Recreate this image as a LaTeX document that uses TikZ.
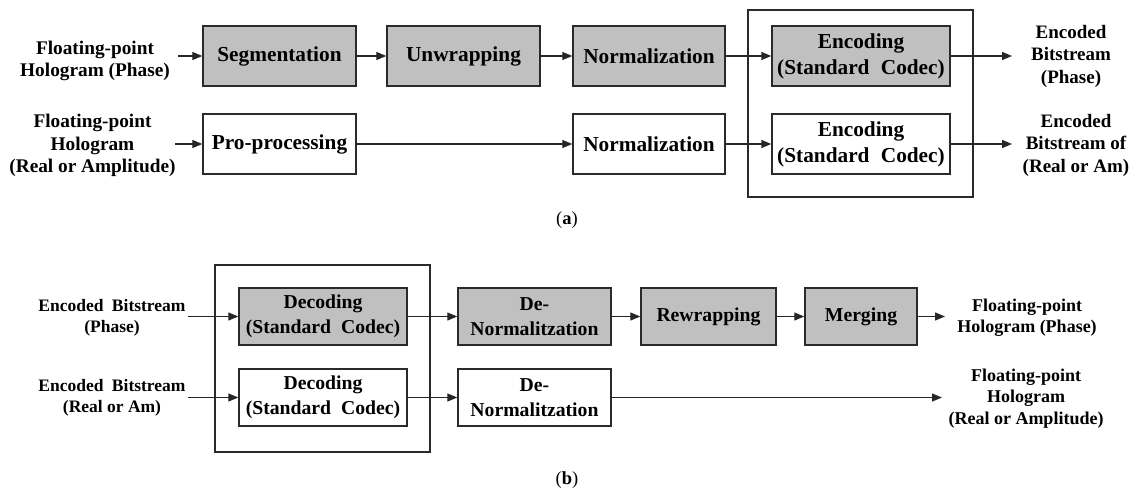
\documentclass[tikz,border=0pt]{standalone}
\usepackage{fontspec}
\setmainfont{Liberation Serif}
\usetikzlibrary{arrows.meta}
\definecolor{boxgray}{HTML}{C0C0C0}
\definecolor{edgecol}{HTML}{2A2A2A}
\tikzset{
  box/.style={draw=edgecol, line width=1.4pt, inner sep=0pt, align=center, fill=white},
  gbox/.style={box, fill=boxgray},
  fa/.style={font=\bfseries\fontsize{21.3}{26}\selectfont},
  fb/.style={font=\bfseries\fontsize{19.7}{25}\selectfont},
  lbl/.style={inner sep=0pt, align=center, font=\bfseries\fontsize{19.3}{22.3}\selectfont},
  frame/.style={draw=edgecol, line width=1.4pt, inner sep=0pt},
  arr/.style={draw=black!85, line width=1.2pt, -{Triangle[length=10pt,width=8pt]}},
}
\begin{document}
\begin{tikzpicture}[x=1pt,y=-1pt]
\useasboundingbox (0,0) rectangle (1134,492);

% ---------- (a) ----------
\node[frame, minimum width=225, minimum height=187] (outa) at (860.5,103.5) {};

\node[gbox, fa, minimum width=153, minimum height=60] (seg) at (279.5,56) {Segmentation};
\node[gbox, fa, minimum width=153, minimum height=60] (unw) at (463.5,56) {Unwrapping};
\node[gbox, fa, minimum width=152, minimum height=60] (nrm1) at (649,56) {Normalization};
\node[gbox, fa, minimum width=178, minimum height=60] (enc1) at (861,56) {Encoding\\(Standard\hspace{6pt} Codec)};

\node[box, fa, minimum width=153, minimum height=60] (pro) at (279.5,144) {Pro-processing};
\node[box, fa, minimum width=152, minimum height=60] (nrm2) at (649,144) {Normalization};
\node[box, fa, minimum width=178, minimum height=60] (enc2) at (861,144) {Encoding\\(Standard\hspace{6pt} Codec)};

\node[lbl] (ina1) at (95,61) {Floating-point\\Hologram (Phase)};
\node[lbl] (ina2) at (92.5,145.5) {Floating-point\\Hologram\\(Real or Amplitude)};
\node[lbl, font=\bfseries\fontsize{19}{22.5}\selectfont] (outa1) at (1071,56) {Encoded\\Bitstream\\(Phase)};
\node[lbl, font=\bfseries\fontsize{19}{22.5}\selectfont] (outa2) at (1076,145) {Encoded\\Bitstream of\\(Real or Am)};

\coordinate (sa1) at (178,56);
\coordinate (sa2) at (175,144);
\coordinate (ea1) at (1012,56);
\coordinate (ea2) at (1012,144);

\draw[arr] (sa1) -- (seg.west);
\draw[arr] (seg.east) -- (unw.west);
\draw[arr] (unw.east) -- (nrm1.west);
\draw[arr] (nrm1.east) -- (enc1.west);
\draw[arr] (enc1.east) -- (ea1);
\draw[arr] (sa2) -- (pro.west);
\draw[arr] (pro.east) -- (nrm2.west);
\draw[arr] (nrm2.east) -- (enc2.west);
\draw[arr] (enc2.east) -- (ea2);

\node[inner sep=0pt, font=\fontsize{18.5}{22}\selectfont] (capa) at (567,220) {(\textbf{a})};

% ---------- (b) ----------
\node[frame, minimum width=215, minimum height=187] (outb) at (322.5,358.5) {};

\node[gbox, fb, minimum width=168, minimum height=57] (dec1) at (323,316.5) {Decoding\\(Standard\hspace{5pt} Codec)};
\node[box, fb, minimum width=168, minimum height=57] (dec2) at (323,397.5) {Decoding\\(Standard\hspace{5pt} Codec)};
\node[gbox, fb, minimum width=153, minimum height=57] (den1) at (534.5,316.5) {De-\\Normalitzation};
\node[gbox, fb, minimum width=135, minimum height=57] (rew) at (708.5,316.5) {Rewrapping};
\node[gbox, fb, minimum width=112, minimum height=57] (mer) at (861,316.5) {Merging};
\node[box, fb, minimum width=153, minimum height=57] (den2) at (534.5,397.5) {De-\\Normalitzation};

\node[lbl, font=\bfseries\fontsize{17.5}{21.5}\selectfont] (inb1) at (112,318) {Encoded\hspace{4pt} Bitstream\\(Phase)};
\node[lbl, font=\bfseries\fontsize{17.5}{21.5}\selectfont] (inb2) at (112,398) {Encoded\hspace{4pt} Bitstream\\(Real or Am)};
\node[lbl, font=\bfseries\fontsize{18}{20.5}\selectfont] (outb1) at (1027,317.5) {Floating-point\\Hologram (Phase)};
\node[lbl, font=\bfseries\fontsize{18}{21.5}\selectfont] (outb2) at (1026,398.5) {Floating-point\\Hologram\\(Real or Amplitude)};

\coordinate (sb1) at (188,316.5);
\coordinate (sb2) at (188,397.5);
\coordinate (eb1) at (945,316.5);
\coordinate (eb2) at (942,397.5);

\draw[arr] (sb1) -- (dec1.west);
\draw[arr] (dec1.east) -- (den1.west);
\draw[arr] (den1.east) -- (rew.west);
\draw[arr] (rew.east) -- (mer.west);
\draw[arr] (mer.east) -- (eb1);
\draw[arr] (sb2) -- (dec2.west);
\draw[arr] (dec2.east) -- (den2.west);
\draw[arr] (den2.east) -- (eb2);

\node[inner sep=0pt, font=\fontsize{18.5}{22}\selectfont] (capb) at (567,480) {(\textbf{b})};
\end{tikzpicture}
\end{document}
